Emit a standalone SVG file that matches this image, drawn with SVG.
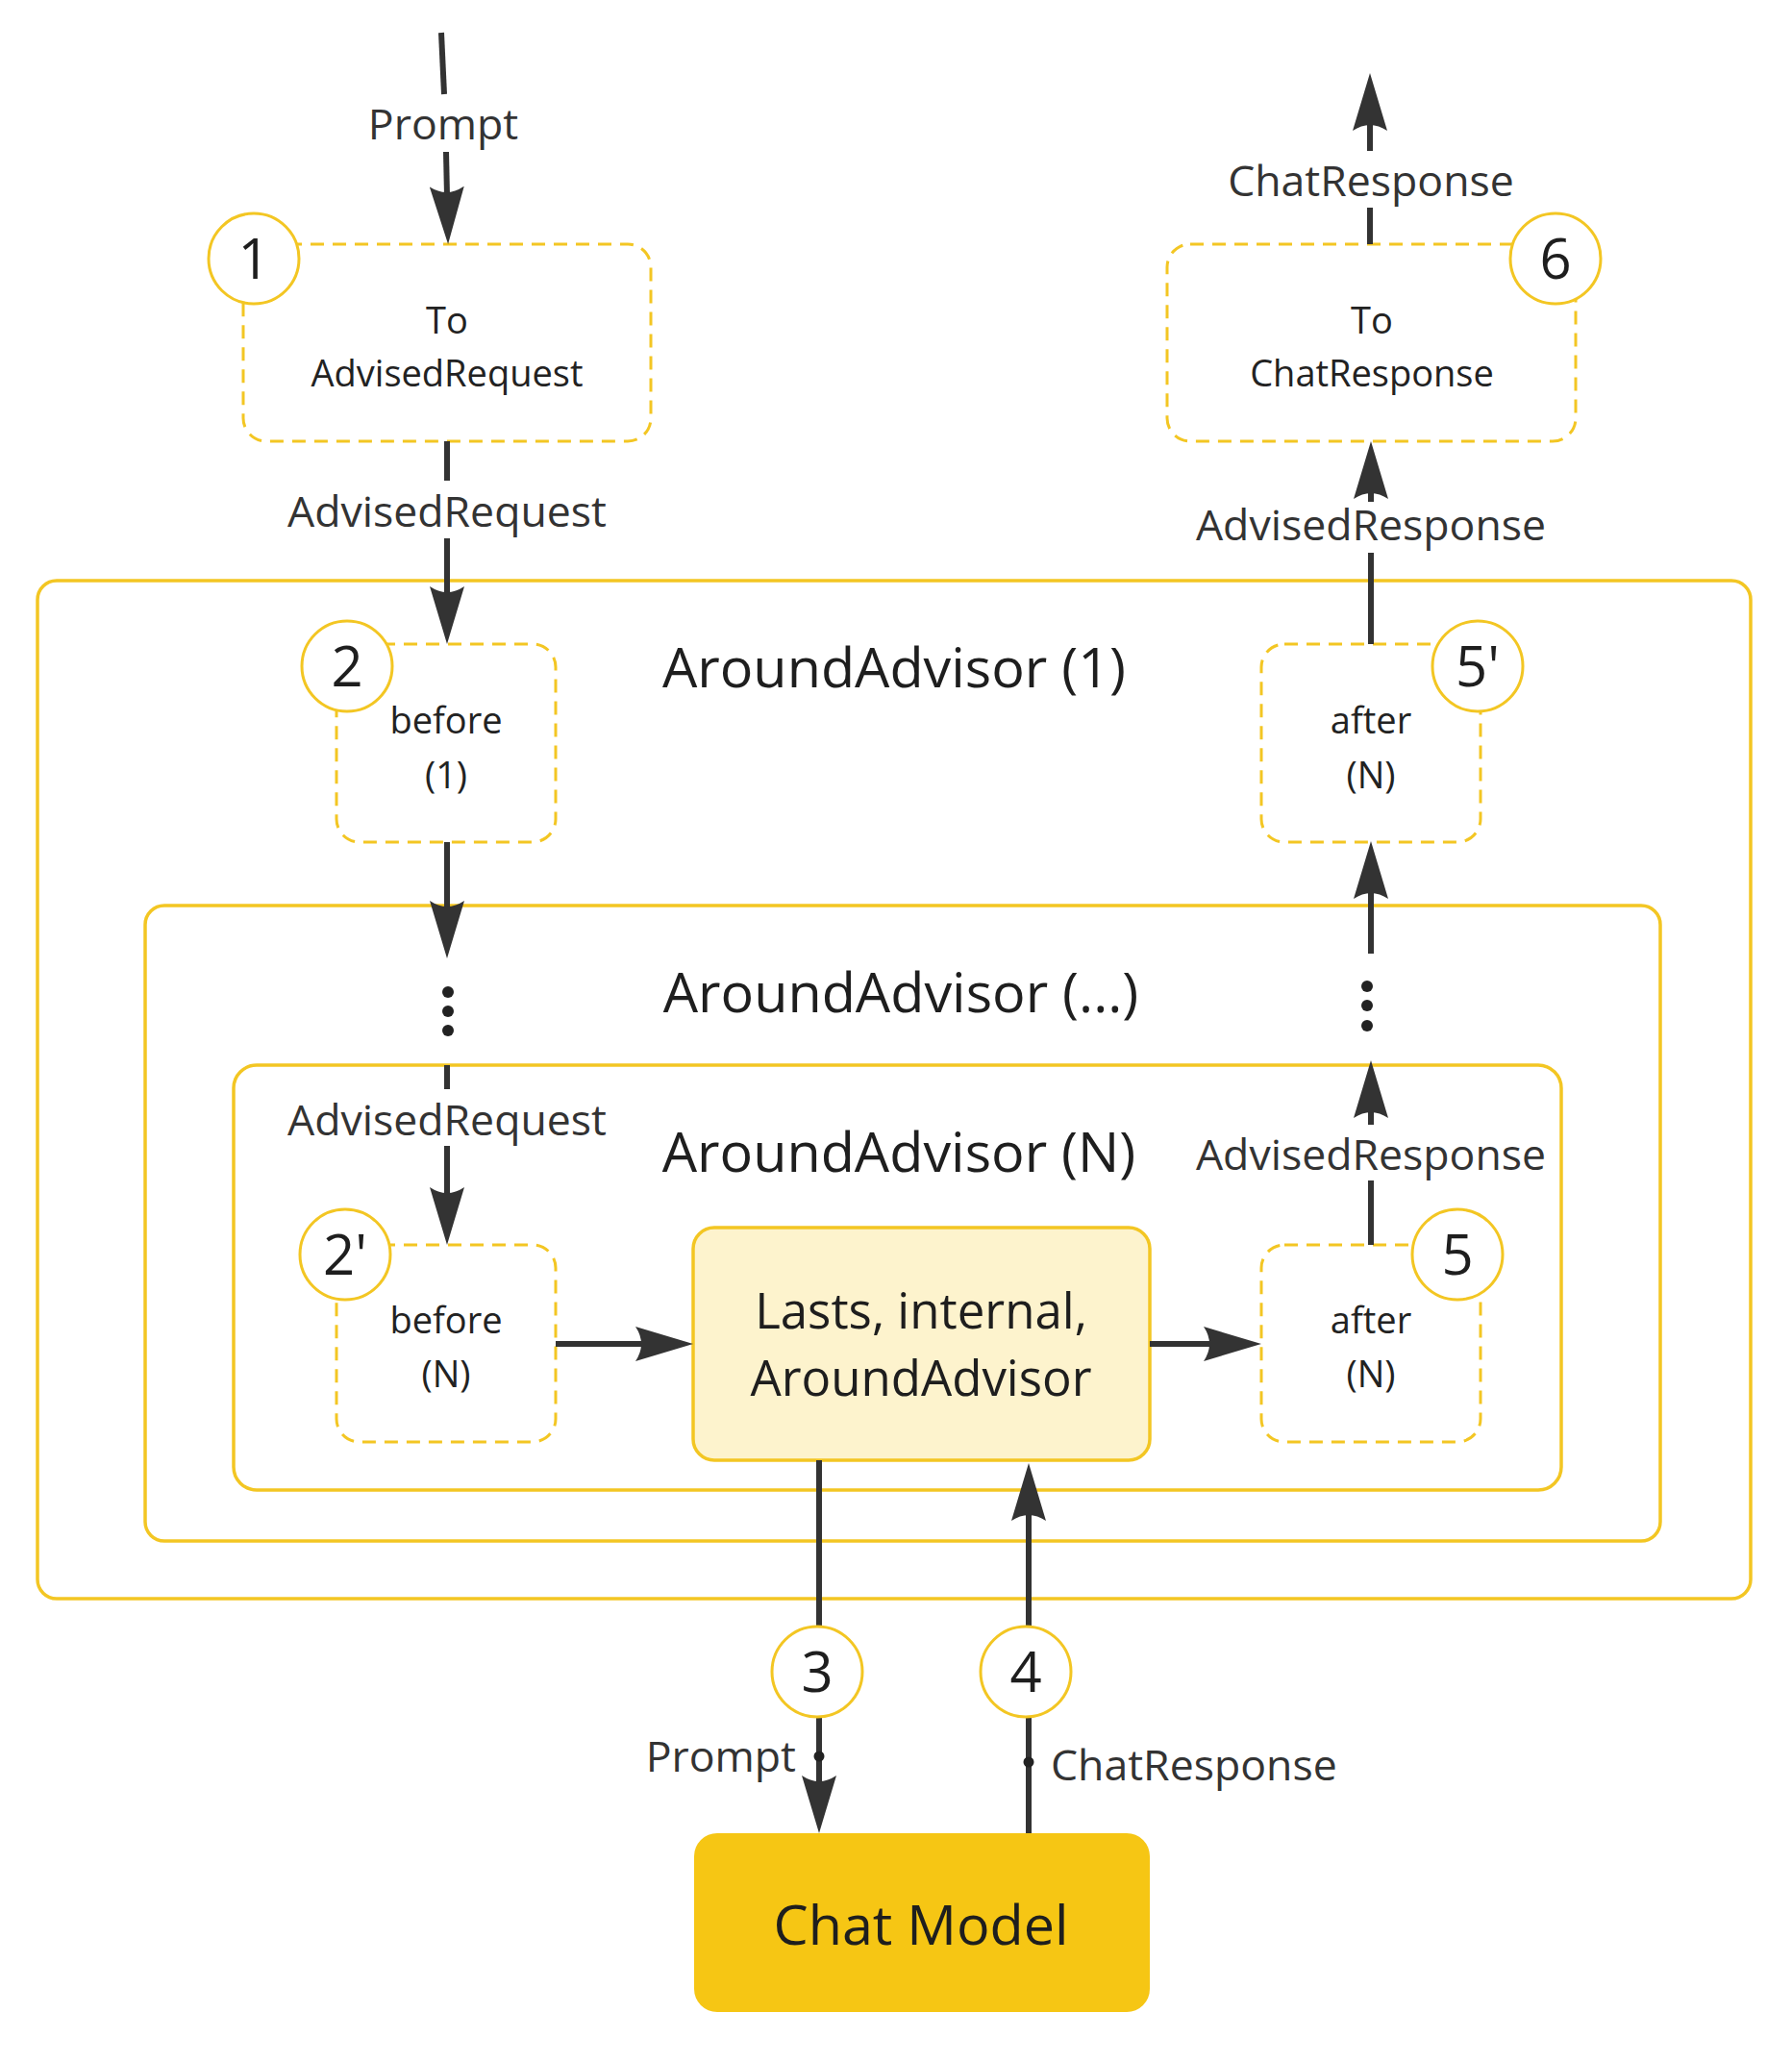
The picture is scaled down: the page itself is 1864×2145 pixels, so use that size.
<svg xmlns="http://www.w3.org/2000/svg" width="1864" height="2145" viewBox="0 0 1864 2145">
<style>
.frame{fill:none;stroke:#F3C623;stroke-width:3.5}
.dash{fill:#fff;stroke:#F3C623;stroke-width:3;stroke-dasharray:14 9}
.badge{fill:#fff;stroke:#F3C623;stroke-width:3}
.num{font-family:"Open Sans","Noto Sans","DejaVu Sans",sans-serif;font-size:58px;fill:#1e1e1e;text-anchor:middle}
.box{font-family:"Open Sans","Noto Sans","DejaVu Sans",sans-serif;font-size:38px;fill:#222;text-anchor:middle}
.lbl{font-family:"Open Sans","Noto Sans","DejaVu Sans",sans-serif;font-size:44.6px;fill:#333;text-anchor:middle}
.title{font-family:"Open Sans","Noto Sans","DejaVu Sans",sans-serif;font-size:57.5px;fill:#1e1e1e;text-anchor:middle}
.con{fill:none;stroke:#333;stroke-width:6}
.arr{fill:none;stroke:#333;stroke-width:6;marker-end:url(#ah)}
.dot{fill:#222}
</style>
<defs>
<marker id="ah" markerUnits="userSpaceOnUse" viewBox="0 0 60 36" markerWidth="60" markerHeight="36" refX="10" refY="18" orient="auto">
<path d="M0,0 L60,18 L0,36 Q12,18 0,0 Z" fill="#333"/>
</marker>
</defs>
<rect width="1864" height="2145" fill="#fff"/>

<g id="advisor-1">
<rect class="frame" x="39" y="604" width="1782" height="1059" rx="20"/>
<text class="title" x="930" y="715">AroundAdvisor (1)</text>
</g>
<g id="advisor-mid">
<rect class="frame" x="151" y="942" width="1576" height="661" rx="20"/>
<text class="title" x="937" y="1053">AroundAdvisor (...)</text>
</g>
<g id="advisor-n">
<rect class="frame" x="243" y="1108" width="1381" height="442" rx="24"/>
<text class="title" x="935" y="1219">AroundAdvisor (N)</text>
</g>

<g id="to-advised-request">
<rect class="dash" x="253" y="254" width="424" height="205" rx="24"/>
<text class="box" x="465" y="347">To</text>
<text class="box" x="465" y="402">AdvisedRequest</text>
</g>
<g id="to-chat-response">
<rect class="dash" x="1214" y="254" width="425" height="205" rx="24"/>
<text class="box" x="1427" y="347">To</text>
<text class="box" x="1427" y="402">ChatResponse</text>
</g>
<g id="before-1">
<rect class="dash" x="350" y="670" width="228" height="206" rx="24"/>
<text class="box" x="464" y="763">before</text>
<text class="box" x="464" y="820">(1)</text>
</g>
<g id="after-top">
<rect class="dash" x="1312" y="670" width="228" height="206" rx="24"/>
<text class="box" x="1426" y="763">after</text>
<text class="box" x="1426" y="820">(N)</text>
</g>
<g id="before-n">
<rect class="dash" x="350" y="1295" width="228" height="205" rx="24"/>
<text class="box" x="464" y="1387">before</text>
<text class="box" x="464" y="1443">(N)</text>
</g>
<g id="after-n">
<rect class="dash" x="1312" y="1295" width="228" height="205" rx="24"/>
<text class="box" x="1426" y="1387">after</text>
<text class="box" x="1426" y="1443">(N)</text>
</g>
<g id="lasts">
<rect x="721" y="1277" width="475" height="242" rx="22" fill="#FDF3CD" stroke="#F3C623" stroke-width="3.5"/>
<text class="title" style="font-size:51px" x="958" y="1382">Lasts, internal,</text>
<text class="title" style="font-size:51px" x="958" y="1452">AroundAdvisor</text>
</g>
<g id="chat-model">
<rect x="722" y="1907" width="474" height="186" rx="24" fill="#F6C614"/>
<text class="title" x="958" y="2023">Chat Model</text>
</g>

<g id="connectors">
<line class="con" x1="459" y1="34" x2="462" y2="98"/>
<line class="arr" x1="464" y1="158" x2="465" y2="204"/>
<text class="lbl" x="461" y="145">Prompt</text>

<line class="con" x1="465" y1="459" x2="465" y2="500"/>
<line class="arr" x1="465" y1="560" x2="465" y2="620"/>
<text class="lbl" x="465" y="548">AdvisedRequest</text>

<line class="arr" x1="465" y1="876" x2="465" y2="947"/>
<circle class="dot" cx="466" cy="1032" r="6"/>
<circle class="dot" cx="466" cy="1052" r="6"/>
<circle class="dot" cx="466" cy="1072" r="6"/>
<line class="con" x1="465" y1="1108" x2="465" y2="1133"/>
<line class="arr" x1="465" y1="1192" x2="465" y2="1245"/>
<text class="lbl" x="465" y="1181">AdvisedRequest</text>

<line class="arr" x1="578" y1="1398" x2="671" y2="1398"/>
<line class="arr" x1="1196" y1="1398" x2="1262" y2="1398"/>

<line class="con" x1="1426" y1="1295" x2="1426" y2="1228"/>
<line class="arr" x1="1426" y1="1170" x2="1426" y2="1153"/>
<text class="lbl" x="1426" y="1217">AdvisedResponse</text>
<circle class="dot" cx="1422" cy="1026" r="6"/>
<circle class="dot" cx="1422" cy="1046" r="6"/>
<circle class="dot" cx="1422" cy="1067" r="6"/>
<line class="arr" x1="1426" y1="992" x2="1426" y2="925"/>

<line class="con" x1="1426" y1="670" x2="1426" y2="575"/>
<line class="arr" x1="1426" y1="522" x2="1426" y2="509"/>
<text class="lbl" x="1426" y="562">AdvisedResponse</text>

<line class="con" x1="1425" y1="254" x2="1425" y2="216"/>
<line class="arr" x1="1425" y1="157" x2="1425" y2="126"/>
<text class="lbl" x="1426" y="204">ChatResponse</text>

<line class="arr" x1="852" y1="1519" x2="852" y2="1857"/>
<circle class="dot" cx="852" cy="1827" r="5.5"/>
<text class="lbl" x="828" y="1843" style="text-anchor:end">Prompt</text>

<line class="arr" x1="1070" y1="1907" x2="1070" y2="1572"/>
<circle class="dot" cx="1070" cy="1833" r="5.5"/>
<text class="lbl" x="1093" y="1852" style="text-anchor:start">ChatResponse</text>
</g>

<g id="step-1"><circle class="badge" cx="264" cy="269" r="47"/><text class="num" x="264" y="290">1</text></g>
<g id="step-6"><circle class="badge" cx="1618" cy="269" r="47"/><text class="num" x="1618" y="290">6</text></g>
<g id="step-2"><circle class="badge" cx="361" cy="693" r="47"/><text class="num" x="361" y="714">2</text></g>
<g id="step-5p"><circle class="badge" cx="1537" cy="693" r="47"/><text class="num" x="1537" y="714">5'</text></g>
<g id="step-2p"><circle class="badge" cx="359" cy="1305" r="47"/><text class="num" x="359" y="1326">2'</text></g>
<g id="step-5"><circle class="badge" cx="1516" cy="1305" r="47"/><text class="num" x="1516" y="1326">5</text></g>
<g id="step-3"><circle class="badge" cx="850" cy="1739" r="47"/><text class="num" x="850" y="1760">3</text></g>
<g id="step-4"><circle class="badge" cx="1067" cy="1739" r="47"/><text class="num" x="1067" y="1760">4</text></g>
</svg>
